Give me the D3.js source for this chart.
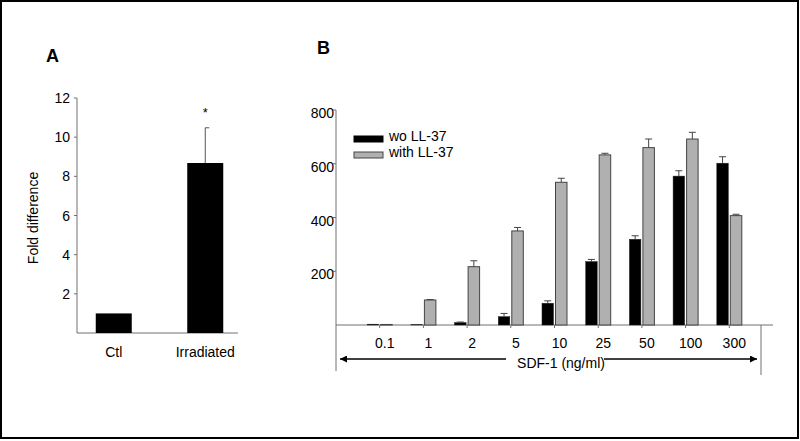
<!DOCTYPE html>
<html><head><meta charset="utf-8">
<script src="https://cdn.jsdelivr.net/npm/d3@7"></script>
<style>body{margin:0;background:#fff}svg{display:block}text{font-family:"Liberation Sans",Arial,sans-serif}</style>
</head><body>
<svg id="c" width="800" height="441"></svg>
<script>
// Panel A data
const catsA = ["Ctl", "Irradiated"];
const valsA = [1.0, 8.68];
const errA = [0, 1.8];
const ticksA = [2, 4, 6, 8, 10, 12];

// Panel B data
const catsB = ["0.1", "1", "2", "5", "10", "25", "50", "100", "300"];
const woLL = [3, 1, 9, 31, 81, 236, 319, 554, 602];
const woLLErr = [0, 0, 2, 12, 9, 8, 13, 20, 24];
const withLL = [2, 93, 217, 350, 531, 633, 660, 692, 407];
const withLLErr = [0, 2, 22, 13, 15, 6, 32, 25, 5];
const ticksB = [200, 400, 600, 800];
const seriesNames = ["wo LL-37", "with LL-37"];

const svg = d3.select("#c");
const axisCol = "#707070";

// frame
svg.append("rect").attr("x", 1).attr("y", 1).attr("width", 797).attr("height", 437)
  .attr("fill", "none").attr("stroke", "#000").attr("stroke-width", 2);

// ---------- Panel A ----------
const yA = d3.scaleLinear().domain([0, 12]).range([333, 98]);
const xA = d3.scalePoint().domain(catsA).range([68, 251]).padding(0.5);
const bwA = 36;
const gA = svg.append("g");

gA.append("text").attr("x", 46).attr("y", 62).attr("font-size", 18).attr("font-weight", "bold").text("A");

gA.append("line").attr("x1", 77).attr("x2", 77).attr("y1", yA(12)).attr("y2", yA(0)).attr("stroke", axisCol);
gA.append("line").attr("x1", 77).attr("x2", 238).attr("y1", yA(0)).attr("y2", yA(0)).attr("stroke", axisCol);
ticksA.forEach(t => {
  gA.append("line").attr("x1", 74).attr("x2", 77).attr("y1", yA(t)).attr("y2", yA(t)).attr("stroke", axisCol);
  gA.append("text").attr("x", 70).attr("y", yA(t) + 5).attr("text-anchor", "end").attr("font-size", 14).text(t);
});
gA.append("text").attr("transform", "translate(38,218) rotate(-90)").attr("text-anchor", "middle")
  .attr("font-size", 14).text("Fold difference");

catsA.forEach((c, i) => {
  const cx = xA(c);
  gA.append("rect").attr("x", cx - bwA / 2).attr("y", yA(valsA[i])).attr("width", bwA)
    .attr("height", yA(0) - yA(valsA[i])).attr("fill", "#000");
  if (errA[i] > 0) {
    gA.append("line").attr("x1", cx).attr("x2", cx).attr("y1", yA(valsA[i])).attr("y2", yA(valsA[i] + errA[i])).attr("stroke", "#555");
    gA.append("line").attr("x1", cx).attr("x2", cx + 4).attr("y1", yA(valsA[i] + errA[i])).attr("y2", yA(valsA[i] + errA[i])).attr("stroke", "#555");
  }
  gA.append("text").attr("x", cx).attr("y", 357).attr("text-anchor", "middle").attr("font-size", 14).text(c);
});
gA.append("text").attr("x", xA("Irradiated")).attr("y", 117).attr("text-anchor", "middle").attr("font-size", 13).text("*");

// ---------- Panel B ----------
const yB = d3.scaleLinear().domain([0, 800]).range([325, 110]);
const xB = d3.scaleLinear().domain([0, 10]).range([336, 773]);
const bwB = 11.5;
const gB = svg.append("g");

gB.append("text").attr("x", 317).attr("y", 54).attr("font-size", 18).attr("font-weight", "bold").text("B");

gB.append("line").attr("x1", 336).attr("x2", 336).attr("y1", yB(800)).attr("y2", 371).attr("stroke", axisCol);
gB.append("line").attr("x1", 336).attr("x2", xB(10)).attr("y1", yB(0)).attr("y2", yB(0)).attr("stroke", axisCol);
gB.append("line").attr("x1", 761).attr("x2", 761).attr("y1", yB(0)).attr("y2", 375).attr("stroke", axisCol);
ticksB.forEach(t => {
  gB.append("line").attr("x1", 333).attr("x2", 336).attr("y1", yB(t)).attr("y2", yB(t)).attr("stroke", axisCol);
  gB.append("text").attr("x", 334).attr("y", yB(t) + 8).attr("text-anchor", "end").attr("font-size", 14).text(t);
});

catsB.forEach((c, i) => {
  const t = xB(i + 1);
  gB.append("line").attr("x1", t).attr("x2", t).attr("y1", yB(0)).attr("y2", yB(0) + 3).attr("stroke", axisCol);
  gB.append("text").attr("x", t + 5).attr("y", 348).attr("text-anchor", "middle").attr("font-size", 14).text(c);
  // black bar
  const bx = t - bwB - 1;
  gB.append("rect").attr("x", bx).attr("y", yB(woLL[i])).attr("width", bwB)
    .attr("height", yB(0) - yB(woLL[i])).attr("fill", "#000").attr("stroke", "#222").attr("stroke-width", 0.5);
  if (woLLErr[i] > 0) {
    const ex = bx + bwB / 2, ey = yB(woLL[i] + woLLErr[i]);
    gB.append("line").attr("x1", ex).attr("x2", ex).attr("y1", yB(woLL[i])).attr("y2", ey).attr("stroke", "#444");
    gB.append("line").attr("x1", ex - 3.5).attr("x2", ex + 3.5).attr("y1", ey).attr("y2", ey).attr("stroke", "#444");
  }
  // gray bar
  const gx = t + 1;
  gB.append("rect").attr("x", gx).attr("y", yB(withLL[i])).attr("width", bwB)
    .attr("height", yB(0) - yB(withLL[i])).attr("fill", "#b0b0b0").attr("stroke", "#444").attr("stroke-width", 1);
  if (withLLErr[i] > 0) {
    const ex = gx + bwB / 2, ey = yB(withLL[i] + withLLErr[i]);
    gB.append("line").attr("x1", ex).attr("x2", ex).attr("y1", yB(withLL[i])).attr("y2", ey).attr("stroke", "#444");
    gB.append("line").attr("x1", ex - 3.5).attr("x2", ex + 3.5).attr("y1", ey).attr("y2", ey).attr("stroke", "#444");
  }
});

// arrow
const defs = svg.append("defs");
defs.append("marker").attr("id", "ah").attr("viewBox", "0 0 10 10").attr("refX", 10).attr("refY", 5)
  .attr("markerWidth", 12).attr("markerHeight", 7).attr("markerUnits", "userSpaceOnUse").attr("orient", "auto-start-reverse")
  .append("path").attr("d", "M0,0L10,5L0,10Z").attr("fill", "#000");
gB.append("line").attr("x1", 340).attr("x2", 757).attr("y1", 359).attr("y2", 359)
  .attr("stroke", "#000").attr("stroke-width", 1.5)
  .attr("marker-start", "url(#ah)").attr("marker-end", "url(#ah)");
gB.append("rect").attr("x", 506).attr("y", 352).attr("width", 98).attr("height", 18).attr("fill", "#fff");
gB.append("text").attr("x", 561).attr("y", 368).attr("text-anchor", "middle").attr("font-size", 14).text("SDF-1 (ng/ml)");

// legend
const legCols = ["#000", "#b0b0b0"];
seriesNames.forEach((n, i) => {
  const ly = 136 + i * 16;
  gB.append("rect").attr("x", 354).attr("y", ly).attr("width", 29).attr("height", 6)
    .attr("fill", legCols[i]).attr("stroke", i ? "#444" : "#000").attr("stroke-width", 1);
  gB.append("text").attr("x", 389).attr("y", ly + 5).attr("font-size", 14).text(n);
});
</script>
</body></html>
